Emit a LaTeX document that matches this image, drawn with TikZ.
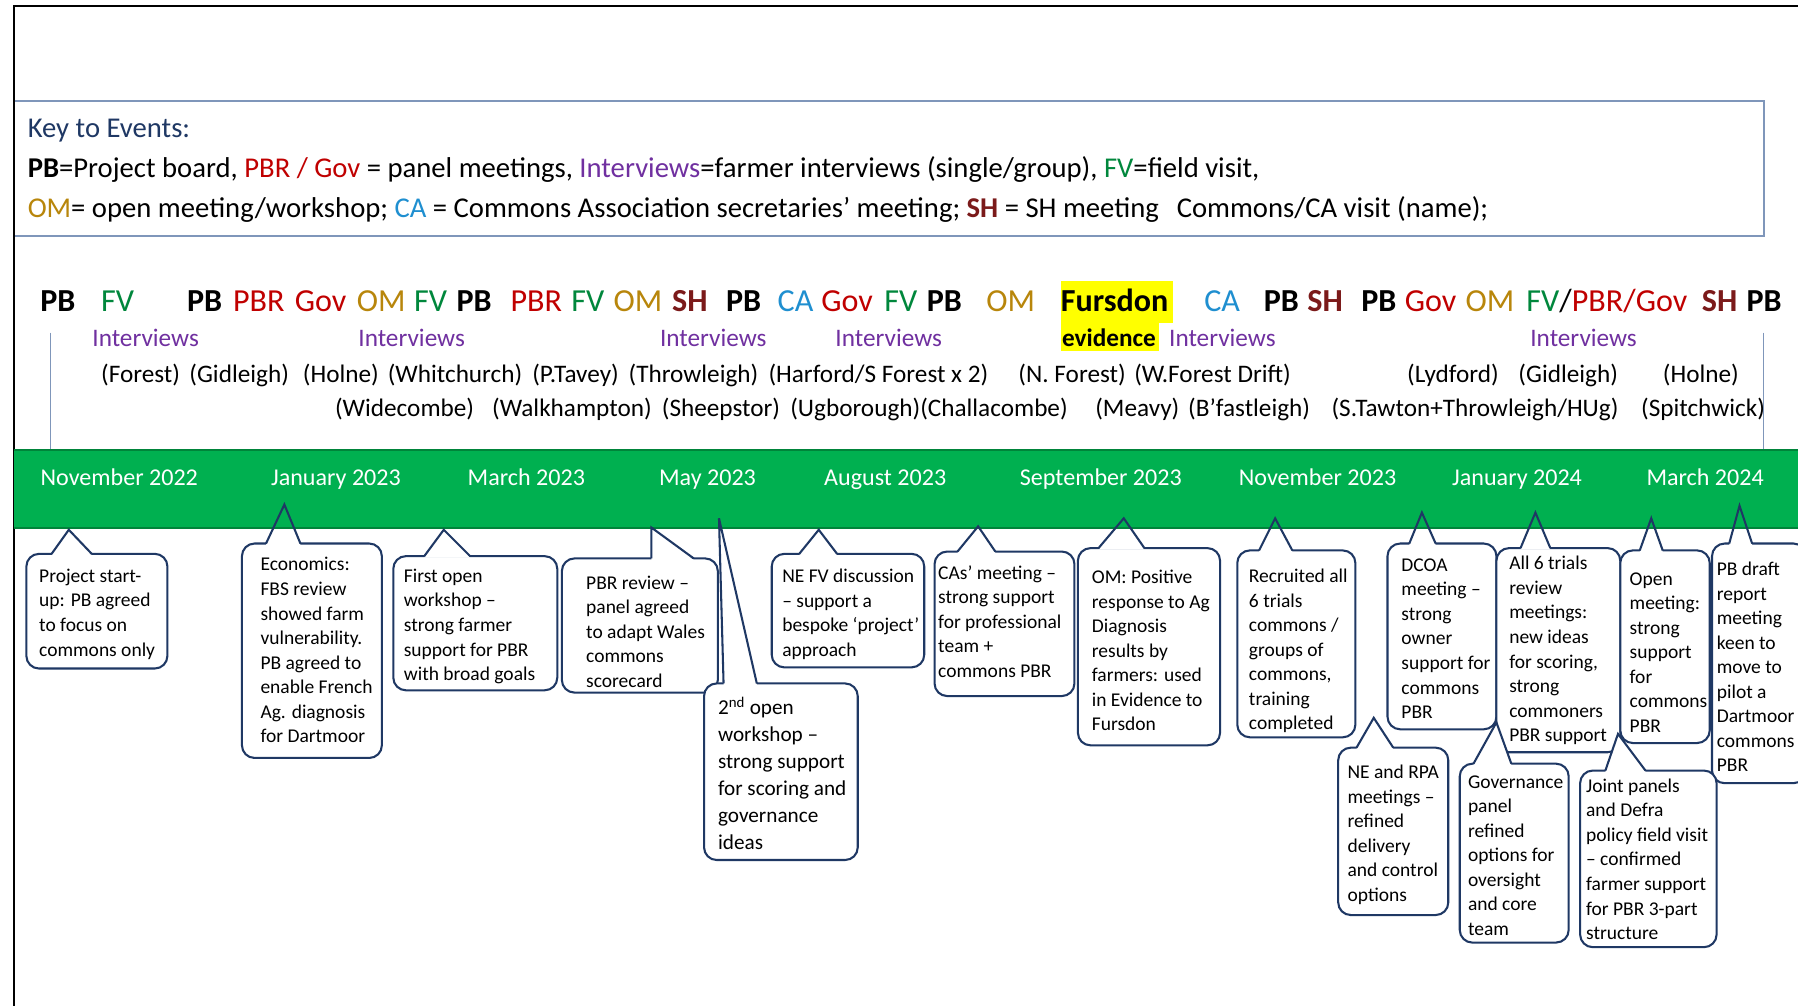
\documentclass[tikz,border=0pt]{standalone}
\usepackage{fontspec}
\setmainfont{Carlito}
\definecolor{navy}{HTML}{1F3864}
\definecolor{keyblue}{HTML}{7F96BA}
\definecolor{pbr}{HTML}{C00000}
\definecolor{intv}{HTML}{7030A0}
\definecolor{fvc}{HTML}{00873C}
\definecolor{omc}{HTML}{B8860B}
\definecolor{cac}{HTML}{1F8FD0}
\definecolor{shc}{HTML}{7B1A1A}
\definecolor{band}{HTML}{00B050}
\definecolor{bandedge}{HTML}{00843A}
\definecolor{hl}{HTML}{FFFF00}
\newcommand\callout[7]{%
  \draw[cbox] (#1,#2) rectangle (#3,#4);
  \begin{scope}
    \clip (0,462) rectangle (1600,1000);
    \fill[white] (#5,#2+1.2) -- (#7) -- (#6,#2+1.2) -- cycle;
  \end{scope}
  \draw[cptr] (#5,#2) -- (#7) -- (#6,#2);
}
\begin{document}
\begin{tikzpicture}[x=1pt,y=-1pt,
  ev/.style={anchor=base west, inner sep=0, font=\fontsize{28}{32}\selectfont},
  evb/.style={anchor=base west, inner sep=0, font=\fontsize{28}{32}\selectfont\bfseries},
  intv/.style={anchor=base, inner sep=0, text=intv, font=\fontsize{22}{26}\selectfont},
  place/.style={anchor=base west, inner sep=0, font=\fontsize{22}{26}\selectfont},
  month/.style={anchor=base, inner sep=0, text=white, font=\fontsize{21}{25}\selectfont},
  keyt/.style={anchor=base west, inner sep=0, font=\fontsize{25}{30}\selectfont},
  cbox/.style={draw=navy, line width=1.8pt, fill=white, rounded corners=11pt},
  cptr/.style={draw=navy, line width=1.8pt, line join=miter},
  ctext/.style={anchor=north west, inner sep=0, align=left, font=\fontsize{17}{21.4}\selectfont},
  vline/.style={draw=keyblue, line width=1.3pt}]
\useasboundingbox (0,0) rectangle (1568,877);
\fill[white] (0,0) rectangle (1568,877);

% key box
\draw[draw=keyblue, line width=1.6pt] (12,88) rectangle (1538,206);
\node[keyt, text=navy] (k1) at (24,120) {Key to Events:};
\node[keyt] (k2) at (24,155) {\textbf{PB}=Project board, \textcolor{pbr}{PBR / Gov} = panel meetings, \textcolor{intv}{Interviews}=farmer interviews (single/group), \textcolor{fvc}{FV}=field visit,};
\node[keyt] (k3) at (24,190) {\textcolor{omc}{OM}= open meeting/workshop; \textcolor{cac}{CA} = Commons Association secretaries’ meeting; \textcolor{shc}{\textbf{SH}} = SH meeting\hspace{10pt} Commons/CA visit (name);};

% outer frame
\draw[line width=1.5pt] (12,877) -- (12,5) -- (1568,5);

% highlight
\fill[hl] (925,245) rectangle (1023,282);
\fill[hl] (925,282) rectangle (1011,306);

% event row
\node[evb] (e1) at (35,272) {PB};
\node[ev, text=fvc] (e2) at (88,272) {FV};
\node[evb] (e3) at (163,272) {PB};
\node[ev, text=pbr] (e4) at (203,272) {PBR};
\node[ev, text=pbr] (e5) at (257,272) {Gov};
\node[ev, text=omc] (e6) at (311,272) {OM};
\node[ev, text=fvc] (e7) at (361,272) {FV};
\node[evb] (e8) at (398,272) {PB};
\node[ev, text=pbr] (e9) at (445,272) {PBR};
\node[ev, text=fvc] (e10) at (498,272) {FV};
\node[ev, text=omc] (e11) at (535,272) {OM};
\node[evb, text=shc] (e12) at (586,272) {SH};
\node[evb] (e13) at (633,272) {PB};
\node[ev, text=cac] (e14) at (678,272) {CA};
\node[ev, text=pbr] (e15) at (716,272) {Gov};
\node[ev, text=fvc] (e16) at (771,272) {FV};
\node[evb] (e17) at (808,272) {PB};
\node[ev, text=omc] (e18) at (860,272) {OM};
\node[evb] (e19) at (925,272) {Fursdon};
\node[ev, text=cac] (e20) at (1050,272) {CA};
\node[evb] (e21) at (1102,272) {PB};
\node[evb, text=shc] (e22) at (1140,272) {SH};
\node[evb] (e23) at (1187,272) {PB};
\node[ev, text=pbr] (e24) at (1225,272) {Gov};
\node[ev, text=omc] (e25) at (1278,272) {OM};
\node[ev] (e26) at (1331,272) {\textcolor{fvc}{FV}/\textcolor{pbr}{PBR/Gov}};
\node[evb, text=shc] (e27) at (1484,272) {SH};
\node[evb] (e28) at (1523,272) {PB};

% interviews row
\node[intv] (i1) at (127,302) {Interviews};
\node[intv] (i2) at (359,302) {Interviews};
\node[intv] (i3) at (622,302) {Interviews};
\node[intv] (i4) at (775,302) {Interviews};
\node[intv] (i5) at (1066,302) {Interviews};
\node[intv] (i6) at (1381,302) {Interviews};
\node[anchor=base west, inner sep=0, font=\fontsize{22}{26}\selectfont\bfseries] (ev) at (926,302) {evidence};

% places
\node[place] (p1) at (88,334) {(Forest)};
\node[place] (p2) at (165,334) {(Gidleigh)};
\node[place] (p3) at (264,334) {(Holne)};
\node[place] (p4) at (338,334) {(Whitchurch)};
\node[place] (p5) at (464,334) {(P.Tavey)};
\node[place] (p6) at (548,334) {(Throwleigh)};
\node[place] (p7) at (670,334) {(Harford/S Forest x 2)};
\node[place] (p8) at (888,334) {(N. Forest)};
\node[place] (p9) at (989,334) {(W.Forest Drift)};
\node[place] (p10) at (1227,334) {(Lydford)};
\node[place] (p11) at (1324,334) {(Gidleigh)};
\node[place] (p12) at (1450,334) {(Holne)};
\node[place] (q1) at (292,363) {(Widecombe)};
\node[place] (q2) at (429,363) {(Walkhampton)};
\node[place] (q3) at (577,363) {(Sheepstor)};
\node[place] (q4) at (689,363) {(Ugborough)(Challacombe)};
\node[place] (q5) at (955,363) {(Meavy)};
\node[place] (q6) at (1036,363) {(B’fastleigh)};
\node[place] (q7) at (1161,363) {(S.Tawton+Throwleigh/HUg)};
\node[place] (q8) at (1431,363) {(Spitchwick)};

% vertical lines
\draw[vline] (44,290) -- (44,392);
\draw[vline] (1538,290) -- (1538,392);

% band
\fill[band] (12,392) rectangle (1568,461);
\draw[bandedge, line width=1.2pt] (12,392.5) -- (1568,392.5);
\draw[bandedge, line width=1.2pt] (12,460.5) -- (1568,460.5);
\node[month] (m1) at (104,423) {November 2022};
\node[month] (m2) at (293,423) {January 2023};
\node[month] (m3) at (459,423) {March 2023};
\node[month] (m4) at (617,423) {May 2023};
\node[month] (m5) at (772,423) {August 2023};
\node[month] (m6) at (960,423) {September 2023};
\node[month] (m7) at (1149,423) {November 2023};
\node[month] (m8) at (1323,423) {January 2024};
\node[month] (m9) at (1487,423) {March 2024};

% callouts
\callout{23}{483}{146}{583}{45}{80}{60,462}
\node[ctext] (c1) at (34,496) {Project start-\\up: PB agreed\\to focus on\\commons only};
\callout{211}{474}{333}{661}{232}{262}{248,440}
\node[ctext] (c2) at (227,486) {Economics:\\FBS review\\showed farm\\vulnerability.\\PB agreed to\\enable French\\Ag. diagnosis\\for Dartmoor};
\callout{343}{485}{486}{602}{370}{410}{387,462}
\node[ctext] (c3) at (352,496) {First open\\workshop –\\strong farmer\\support for PBR\\with broad goals};
\callout{490}{487}{626}{604}{568}{605}{568,460}
\node[ctext] (c4) at (511,502) {PBR review –\\panel agreed\\to adapt Wales\\commons\\scorecard};
\callout{614}{596}{748}{750}{631}{660}{627,452}
\node[ctext, font=\fontsize{18.5}{23.4}\selectfont] (c5) at (626,608) {2\textsuperscript{nd} open\\workshop –\\strong support\\for scoring and\\governance\\ideas};
\callout{673}{483}{806}{582}{697}{730}{714,462}
\node[ctext] (c6) at (682,496) {NE FV discussion\\– support  a\\bespoke ‘project’\\approach};
\callout{815}{481}{937}{607}{835}{868}{853,459}
\node[ctext] (c7) at (818,493) {CAs’ meeting –\\strong support\\for professional\\team +\\commons PBR};
\callout{940}{478}{1064}{650}{958}{998}{980,452}
\node[ctext] (c8) at (952,497) {OM: Positive\\response to Ag\\Diagnosis\\results by\\farmers: used\\in Evidence to\\Fursdon};
\callout{1079}{480}{1182}{643}{1098}{1127}{1112,452}
\node[ctext] (c9) at (1089,496) {Recruited all\\6  trials\\commons /\\groups of\\commons,\\training\\completed};
\callout{1210}{474}{1305}{636}{1229}{1252}{1240,447}
\node[ctext] (c10) at (1222,487) {DCOA\\meeting –\\strong\\owner\\support for\\commons\\PBR};
\callout{1305}{478}{1413}{656}{1326}{1352}{1339,447}
\node[ctext] (c11) at (1316,485) {All 6  trials\\review\\meetings:\\new ideas\\for scoring,\\strong\\commoners\\PBR support};
\callout{1413}{480}{1491}{648}{1430}{1450}{1440,452}
\node[ctext] (c12) at (1421,499) {Open\\meeting:\\strong\\support\\for\\commons\\PBR};
\callout{1493}{474}{1575}{683}{1508}{1528}{1517,441}
\node[ctext] (c13) at (1497,490) {PB draft\\report\\meeting\\keen to\\move to\\pilot a\\Dartmoor\\commons\\PBR};
\callout{1167}{652}{1263}{798}{1183}{1215}{1198,626}
\node[ctext] (c14) at (1175,667) {NE and RPA\\meetings –\\refined\\delivery\\and control\\options};
\callout{1273}{666}{1368}{822}{1285}{1318}{1305,630}
\node[ctext] (c15) at (1280,676) {Governance\\panel\\refined\\options for\\oversight\\and core\\team};
\callout{1378}{672}{1497}{826}{1400}{1435}{1411,640}
\node[ctext] (c16) at (1383,679) {Joint panels\\and Defra\\policy field visit\\– confirmed\\farmer support\\for PBR 3-part\\structure};
\end{tikzpicture}
\end{document}
